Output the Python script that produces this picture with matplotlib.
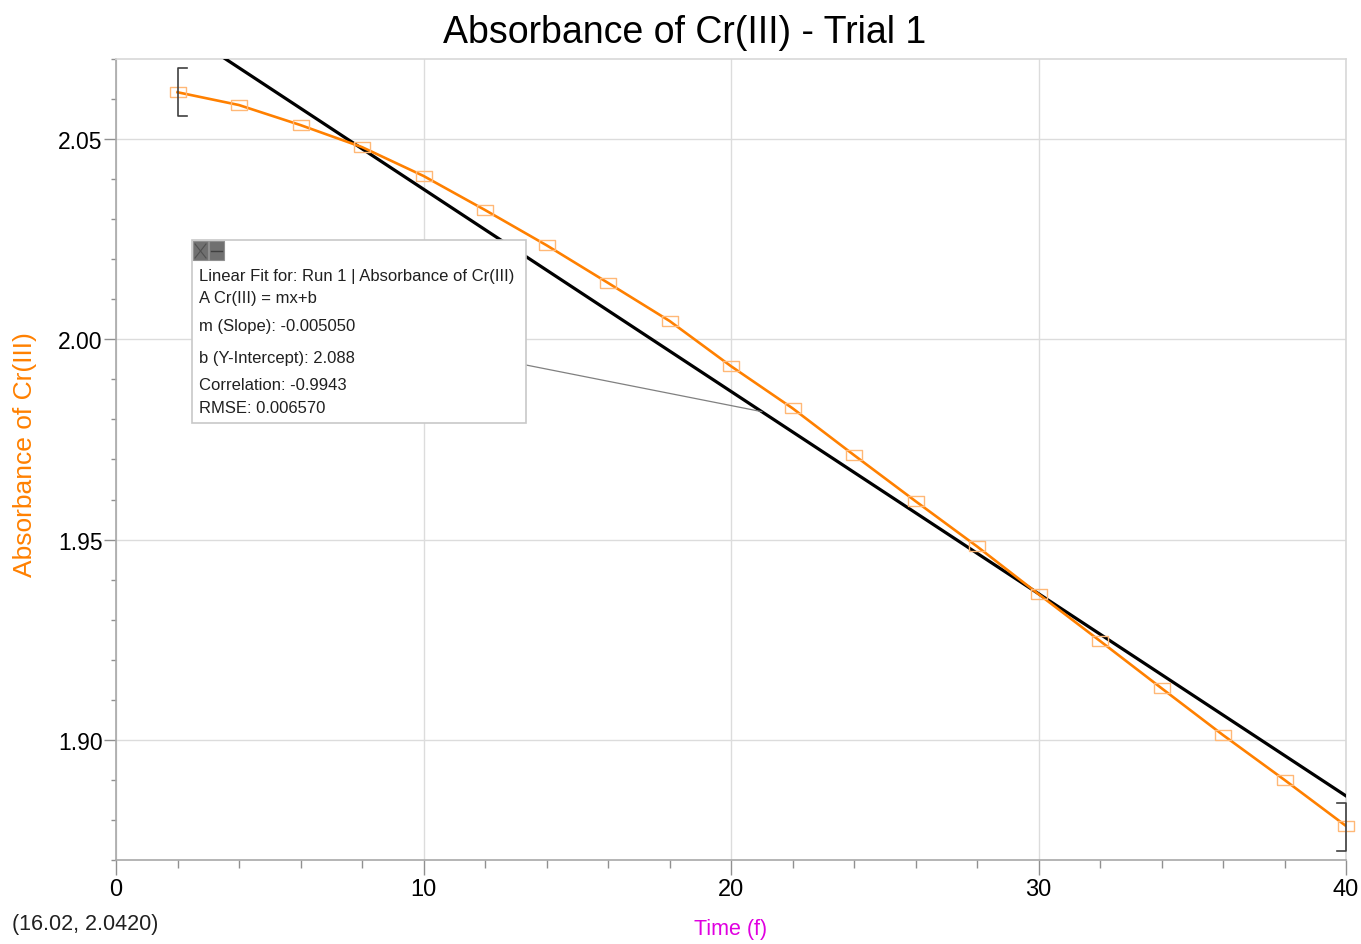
import matplotlib
matplotlib.use("Agg")
import matplotlib.pyplot as plt
import numpy as np
from matplotlib.ticker import MultipleLocator, FormatStrFormatter
from matplotlib.patches import Rectangle

plt.rcParams['font.family'] = ['Liberation Sans Narrow', 'Liberation Sans', 'DejaVu Sans']

# ---- data ----
time = [2, 4, 6, 8, 10, 12, 14, 16, 18, 20, 22, 24, 26, 28, 30, 32, 34, 36, 38, 40]
absorbance = [2.0617, 2.0585, 2.0535, 2.0480, 2.0408, 2.0323, 2.0235, 2.0141, 2.0046, 1.9933,
              1.9828, 1.9711, 1.9596, 1.9483, 1.9364, 1.9247, 1.9129, 1.9012, 1.8900, 1.8785]
fit_slope = -0.005050
fit_intercept = 2.088
fit_lines = ["Linear Fit for: Run 1 | Absorbance of Cr(III)",
             "A Cr(III) = mx+b",
             "m (Slope): -0.005050",
             "b (Y-Intercept): 2.088",
             "Correlation: -0.9943",
             "RMSE: 0.006570"]
title = "Absorbance of Cr(III) - Trial 1"
xlabel = "Time (f)"
ylabel = "Absorbance of Cr(III)"
cursor_text = "(16.02, 2.0420)"

W, H = 1361, 945
fig = plt.figure(figsize=(W / 100, H / 100), dpi=100)
ax = fig.add_axes([116 / W, 1 - 861 / H, 1230 / W, 801 / H])

ax.set_xlim(0, 40)
ax.set_ylim(1.87, 2.07)

# grid
ax.xaxis.set_major_locator(MultipleLocator(10))
ax.xaxis.set_minor_locator(MultipleLocator(2))
ax.yaxis.set_major_locator(MultipleLocator(0.05))
ax.yaxis.set_minor_locator(MultipleLocator(0.01))
ax.yaxis.set_major_formatter(FormatStrFormatter('%.2f'))
ax.grid(True, which='major', color='#dcdcdc', linewidth=1.0)
ax.set_axisbelow(True)

ax.tick_params(axis='x', which='major', length=11, width=1, color='#909090', labelsize=17, pad=2)
ax.tick_params(axis='x', which='minor', length=6, width=1, color='#909090')
ax.tick_params(axis='y', which='major', length=8.5, width=1, color='#909090', labelsize=16.5, pad=1)
ax.tick_params(axis='y', which='minor', length=3.6, width=1, color='#909090')

for s in ['left', 'bottom']:
    ax.spines[s].set_color('#a8a8a8')
    ax.spines[s].set_linewidth(1.2)
for s in ['top', 'right']:
    ax.spines[s].set_color('#d8d8d8')
    ax.spines[s].set_linewidth(1.2)

# fit line
xf = np.array([0, 40])
ax.plot(xf, fit_slope * xf + fit_intercept, color='black', linewidth=2.3, zorder=3)

# data line + markers
rect_marker = [(-1, -0.62), (1, -0.62), (1, 0.62), (-1, 0.62), (-1, -0.62)]
ax.plot(time, absorbance, color='#ff8000', linewidth=1.9, zorder=4)
ax.plot(time, absorbance, linestyle='none', marker=rect_marker, markersize=12,
        markerfacecolor='none', markeredgecolor='#ffb877', markeredgewidth=1.0, zorder=5,
        clip_on=False)

# range brackets
def bracket(x, y0, y1, dx):
    ax.plot([x + dx, x, x, x + dx], [y0, y0, y1, y1], color='#404040', linewidth=1.2,
            zorder=6, clip_on=False)
bracket(time[0], 2.0557, 2.0677, 0.3)
bracket(time[-1], 1.8723, 1.8843, -0.3)

# annotation box
bx0, by0, bx1, by1 = 192, 241, 526, 424
box = Rectangle((bx0 / W, 1 - by1 / H), (bx1 - bx0) / W, (by1 - by0) / H,
                transform=fig.transFigure, facecolor='white', edgecolor='#c8c8c8',
                linewidth=1.2, zorder=10)
fig.patches.append(box)
# header icons
for ix in [193, 209]:
    fig.patches.append(Rectangle((ix / W, 1 - 261 / H), 15 / W, 19 / H, transform=fig.transFigure,
                                 facecolor='#707070', edgecolor='#909090', linewidth=0.8, zorder=11))
fig.add_artist(plt.Line2D([195 / W, 206 / W], [1 - 245 / H, 1 - 259 / H], color='#505050',
                          linewidth=0.8, transform=fig.transFigure, zorder=12))
fig.add_artist(plt.Line2D([195 / W, 206 / W], [1 - 259 / H, 1 - 245 / H], color='#505050',
                          linewidth=0.8, transform=fig.transFigure, zorder=12))
fig.add_artist(plt.Line2D([211 / W, 222 / W], [1 - 252 / H, 1 - 252 / H], color='#404040',
                          linewidth=1.0, transform=fig.transFigure, zorder=12))

line_ys = [277, 299, 327, 358, 386, 409]
for t, yy in zip(fit_lines, line_ys):
    fig.text(199 / W, 1 - yy / H, t, fontsize=12, color='#202020', va='center', ha='left', zorder=12)

# connector from box to fit line
x_con = 21.0
y_con = fit_slope * x_con + fit_intercept
px, py = ax.transData.transform((x_con, y_con))
fx, fy = fig.transFigure.inverted().transform((px, py))
fig.add_artist(plt.Line2D([526 / W, fx], [1 - 366 / H, fy], color='#808080', linewidth=0.9,
                          transform=fig.transFigure, zorder=9))

# title and labels
fig.text(685 / W, 1 - 33 / H, title, fontsize=27, ha='center', va='center', color='black')
fig.text(731 / W, 1 - 930 / H, xlabel, fontsize=15.5, ha='center', va='center', color='#e000e0')
fig.text(25 / W, 1 - 455 / H, ylabel, fontsize=19, ha='center', va='center', rotation=90,
         color='#ff8000')
fig.text(12 / W, 1 - 925 / H, cursor_text, fontsize=15.5, ha='left', va='center', color='#202020')

fig.savefig('out.png', dpi=100, facecolor='white')
